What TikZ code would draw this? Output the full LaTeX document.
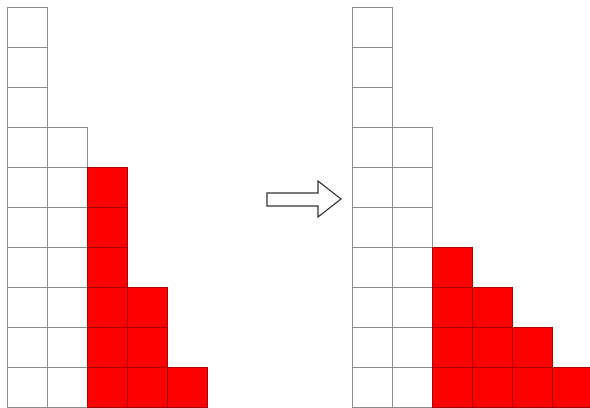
\documentclass[tikz,border=0pt]{standalone}
\usepackage{tikz}
\usepackage{xcolor}
\begin{document}
\begin{tikzpicture}[x=1cm,y=1cm]
  \tikzset{cell/.style={draw=black!45, line width=0.6pt, fill=white},
           redcell/.style={draw=red!65!black, line width=0.6pt, fill=red}}
  \useasboundingbox (0,0) rectangle (14.75,10.175);
  % left staircase
  \foreach \i/\n in {0/10,1/7}
    \foreach \j in {1,...,\n}
      \draw[cell] (0.175+\i,\j-1) rectangle ++(1,1);
  \foreach \i/\n in {2/6,3/3,4/1}
    \foreach \j in {1,...,\n}
      \draw[redcell] (0.175+\i,\j-1) rectangle ++(1,1);
  % right staircase
  \foreach \i/\n in {0/10,1/7}
    \foreach \j in {1,...,\n}
      \draw[cell] (8.8+\i,\j-1) rectangle ++(1,1);
  \foreach \i/\n in {2/4,3/3,4/2,5/1}
    \foreach \j in {1,...,\n}
      \draw[redcell] (8.8+\i,\j-1) rectangle ++(1,1);
  % arrow
  \draw[thick, black!80, fill=white, line join=miter]
    (6.675,5.35) -- (7.95,5.35) -- (7.95,5.65) -- (8.525,5.2)
    -- (7.95,4.75) -- (7.95,5.025) -- (6.675,5.025) -- cycle;
\end{tikzpicture}
\end{document}
